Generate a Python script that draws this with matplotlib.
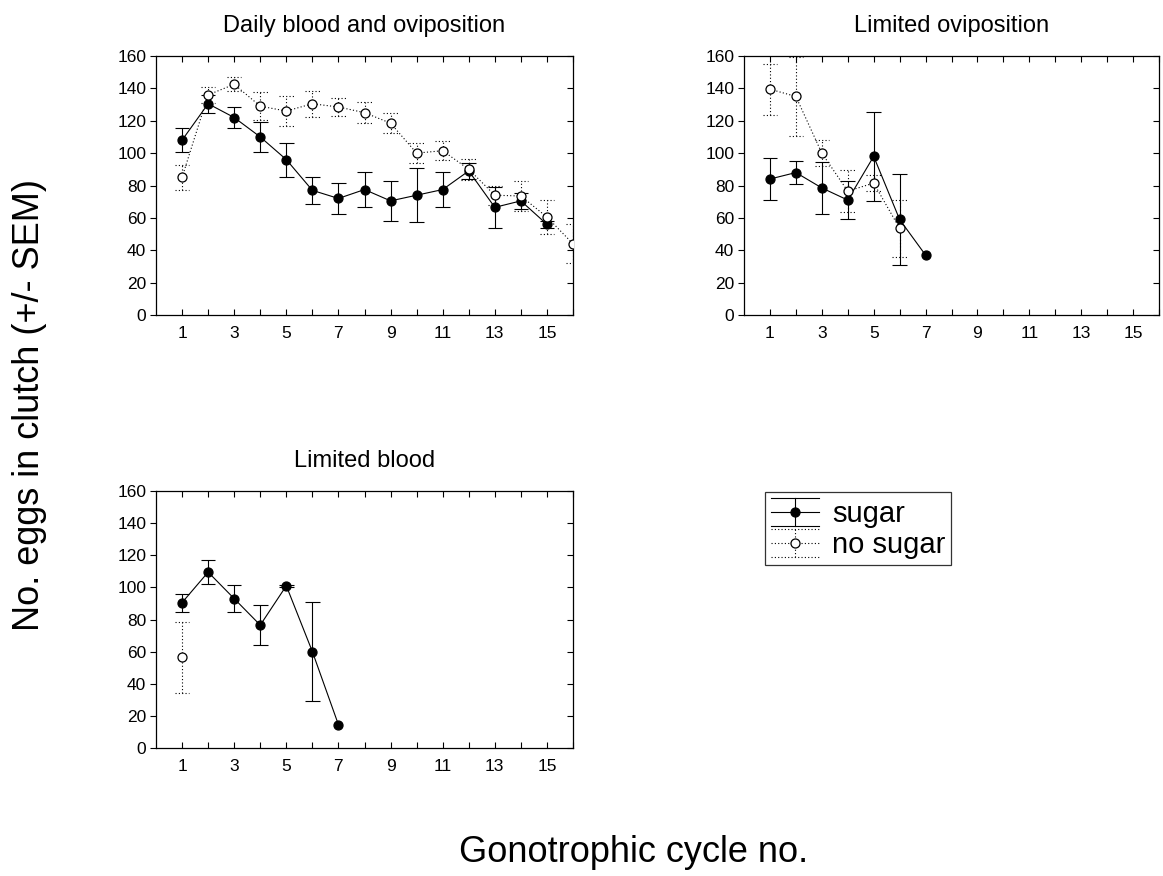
import numpy as np
import matplotlib
matplotlib.use("Agg")
import matplotlib.pyplot as plt
from matplotlib.lines import Line2D
from matplotlib.legend_handler import HandlerBase

plt.rcParams['font.family'] = ['Liberation Sans', 'DejaVu Sans']

# ---------------- data ----------------
titles = ["Daily blood and oviposition", "Limited oviposition", "Limited blood"]
series_labels = ["sugar", "no sugar"]

p1_sugar_x = [1, 2, 3, 4, 5, 6, 7, 8, 9, 10, 11, 12, 13, 14, 15]
p1_sugar_y = [108, 130.5, 122, 110, 96, 77, 72, 77.5, 70.5, 74, 77.5, 89, 66.5, 70.5, 56]
p1_sugar_e = [7.5, 5.7, 6.5, 9, 10.5, 8.3, 9.3, 10.6, 12.5, 16.7, 11, 4.7, 12.5, 4.9, 2]
p1_nosugar_x = [1, 2, 3, 4, 5, 6, 7, 8, 9, 10, 11, 12, 13, 14, 15, 16]
p1_nosugar_y = [85, 136, 142.5, 129, 126, 130.5, 128.5, 125, 118.5, 100, 101.5, 90, 74, 73.5, 60.5, 44]
p1_nosugar_e = [7.7, 5, 4.3, 8.5, 9.2, 8, 5.6, 6.4, 6, 6, 6, 6.4, 5.8, 9.3, 10.4, 12.1]

p2_sugar_x = [1, 2, 3, 4, 5, 6, 7]
p2_sugar_y = [84, 88, 78.5, 71, 98, 59, 37]
p2_sugar_e = [13, 7.3, 16, 11.8, 27.4, 28.4, 0]
p2_nosugar_x = [1, 2, 3, 4, 5, 6]
p2_nosugar_y = [139.5, 135, 100, 76.5, 81.5, 53.5]
p2_nosugar_e = [15.7, 24.5, 8, 12.8, 5, 17.5]

p3_sugar_x = [1, 2, 3, 4, 5, 6, 7]
p3_sugar_y = [90.5, 109.5, 93, 76.5, 101, 60, 14.5]
p3_sugar_e = [5.6, 7.5, 8.5, 12.5, 0.5, 31, 0]
p3_nosugar_x = [1]
p3_nosugar_y = [56.5]
p3_nosugar_e = [22.2]

x_ticks = list(range(1, 17))
x_ticklabels = [str(v) if v % 2 == 1 else "" for v in x_ticks]
y_ticks = [0, 20, 40, 60, 80, 100, 120, 140, 160]

DOT = (0, (1, 2))
CAP_HW = 0.28


def draw_series(ax, x, y, e, filled):
    x = np.asarray(x, float)
    y = np.asarray(y, float)
    e = np.asarray(e, float)
    ls = '-' if filled else DOT
    z = 3 if filled else 4
    m = e > 0
    ax.vlines(x[m], y[m] - e[m], y[m] + e[m], colors='black', linewidth=0.8,
              linestyles=ls, zorder=z)
    for yy in (y[m] - e[m], y[m] + e[m]):
        ax.hlines(yy, x[m] - CAP_HW, x[m] + CAP_HW, colors='black', linewidth=0.8,
                  linestyles=ls, zorder=z)
    ax.plot(x, y, linestyle=ls, color='black', linewidth=0.8,
            marker='o', markersize=6.5,
            markerfacecolor='black' if filled else 'white',
            markeredgecolor='black', markeredgewidth=0.9, zorder=z + 0.5)


def style_axes(ax, title):
    ax.set_xlim(0, 16)
    ax.set_ylim(0, 160)
    ax.set_xticks(x_ticks)
    ax.set_xticklabels(x_ticklabels)
    ax.set_yticks(y_ticks)
    ax.tick_params(axis='x', direction='in', top=True, length=4, width=0.8,
                   labelsize=12.5, pad=8)
    ax.tick_params(axis='y', which='both', left=True, right=False, direction='out',
                   length=4, width=0.8, labelsize=12.5, pad=3)
    # right side inward ticks
    sec = ax.secondary_yaxis('right')
    sec.set_yticks(y_ticks)
    sec.tick_params(direction='in', length=4, width=0.8, labelright=False)
    sec.spines['right'].set_visible(False)
    for s in ax.spines.values():
        s.set_linewidth(0.9)
        s.set_color('black')
    ax.set_title(title, fontsize=17, pad=17)


fig = plt.figure(figsize=(11.63, 8.76), dpi=100)
W, H = 1163.0, 876.0


def add_ax(l, t, r, b):
    return fig.add_axes([l / W, 1 - b / H, (r - l) / W, (b - t) / H])


ax1 = add_ax(156, 56, 573, 315)
ax2 = add_ax(744, 56, 1159, 315)
ax3 = add_ax(156, 491, 573, 748)

for ax, t, data in [
    (ax1, titles[0], (p1_sugar_x, p1_sugar_y, p1_sugar_e, p1_nosugar_x, p1_nosugar_y, p1_nosugar_e)),
    (ax2, titles[1], (p2_sugar_x, p2_sugar_y, p2_sugar_e, p2_nosugar_x, p2_nosugar_y, p2_nosugar_e)),
    (ax3, titles[2], (p3_sugar_x, p3_sugar_y, p3_sugar_e, p3_nosugar_x, p3_nosugar_y, p3_nosugar_e)),
]:
    sx, sy, se, nx, ny, ne = data
    draw_series(ax, sx, sy, se, True)
    draw_series(ax, nx, ny, ne, False)
    style_axes(ax, t)


class ErrHandler(HandlerBase):
    def __init__(self, filled):
        super().__init__()
        self.filled = filled

    def create_artists(self, legend, orig_handle, xdescent, ydescent, width, height,
                       fontsize, trans):
        ls = '-' if self.filled else DOT
        x0, x1 = -xdescent, -xdescent + width
        y0, y1 = -ydescent, -ydescent + height
        ym = (y0 + y1) / 2
        xm = (x0 + x1) / 2
        arts = []
        for yy in (y0, y1):
            arts.append(Line2D([x0, x1], [yy, yy], color='black', lw=0.8, linestyle=ls))
        arts.append(Line2D([xm, xm], [y0, y1], color='black', lw=0.8, linestyle=ls))
        arts.append(Line2D([x0, x1], [ym, ym], color='black', lw=0.8, linestyle=ls))
        arts.append(Line2D([xm], [ym], marker='o', markersize=6.5, linestyle='none',
                           markerfacecolor='black' if self.filled else 'white',
                           markeredgecolor='black', markeredgewidth=0.9))
        for a in arts:
            a.set_transform(trans)
        return arts


h_sugar = Line2D([], [])
h_nosugar = Line2D([], [], linestyle=':')
leg = fig.legend([h_sugar, h_nosugar], series_labels,
                 handler_map={h_sugar: ErrHandler(True), h_nosugar: ErrHandler(False)},
                 loc='upper left', bbox_to_anchor=(765 / W, 1 - 492 / H),
                 fontsize=21, frameon=True, fancybox=False, borderpad=0.2,
                 labelspacing=0.05, handlelength=1.65, handleheight=1.1,
                 handletextpad=0.45, borderaxespad=0)
leg.get_frame().set_edgecolor('black')
leg.get_frame().set_linewidth(0.9)

fig.text(30 / W, 1 - 405 / H, "No. eggs in clutch (+/- SEM)", rotation=90,
         fontsize=26, ha='center', va='center')
fig.text(634 / W, 1 - 852 / H, "Gonotrophic cycle no.", fontsize=26,
         ha='center', va='center')

fig.savefig("out.png", dpi=100)
